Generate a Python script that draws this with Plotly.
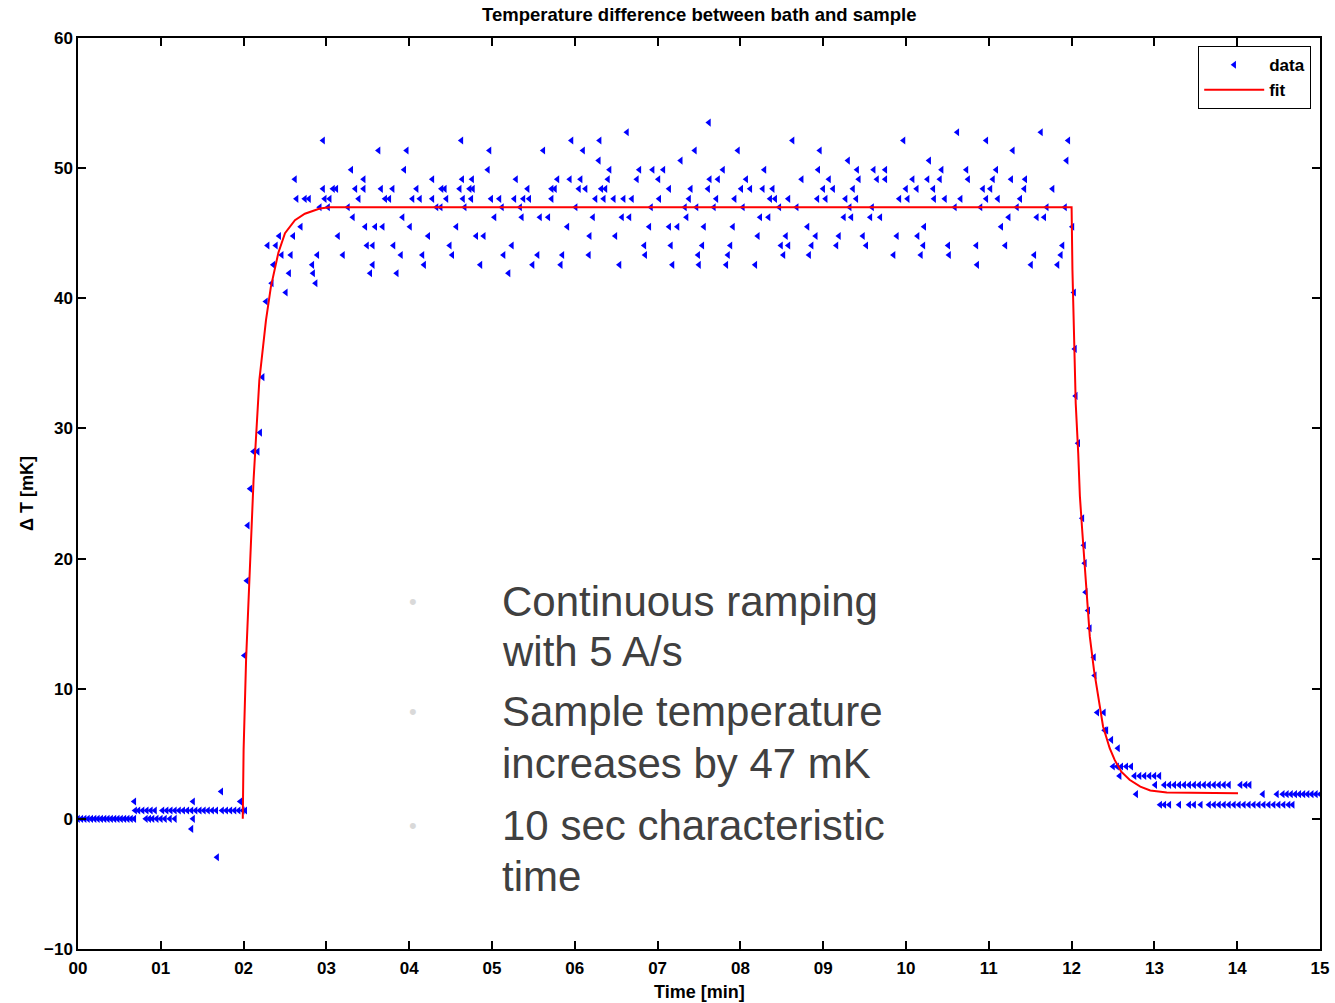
import plotly.graph_objects as go

# ---------------- data ----------------
# baseline before the ramp: (level, times)
baseline_rows = [
    (0.00, [0.00, 0.04, 0.08, 0.12, 0.16, 0.20, 0.24, 0.28, 0.32, 0.36, 0.40, 0.44, 0.48,
            0.52, 0.56, 0.60, 0.64, 0.68, 0.82, 0.86, 0.90, 0.95, 1.00, 1.05, 1.11, 1.17, 1.39]),
    (0.64, [0.69, 0.73, 0.78, 0.83, 0.88, 0.93, 1.02, 1.07, 1.12, 1.17, 1.22, 1.27, 1.32,
            1.37, 1.42, 1.47, 1.52, 1.57, 1.62, 1.67, 1.74, 1.79, 1.84, 1.89, 1.94, 1.99, 2.02]),
    (1.33, [0.68, 1.39, 1.96]),
    (2.10, [1.73]),
    (-0.77, [1.37]),
    (-2.95, [1.68]),
]

rise_time = [2.01, 2.04, 2.05, 2.08, 2.12, 2.17, 2.20, 2.23]
rise_dT = [12.55, 18.29, 22.54, 25.36, 28.22, 28.22, 29.68, 33.94]

plateau_rows = [
    (53.50, [7.62]),
    (52.76, [6.63, 10.62, 11.63]),
    (52.12, [2.96, 4.63, 5.96, 6.30, 8.63, 9.97, 10.97, 11.96]),
    (51.35, [3.63, 3.97, 4.97, 5.62, 6.10, 7.45, 7.97, 8.96, 11.29]),
    (50.58, [6.29, 7.28, 9.30, 10.28, 11.94]),
    (49.87, [3.30, 3.94, 4.95, 6.42, 6.78, 6.94, 7.07, 7.79, 8.29, 8.94, 9.41, 9.61, 9.75,
             10.43, 10.73, 11.09]),
    (49.15, [2.62, 3.45, 4.28, 4.64, 4.76, 5.29, 5.79, 5.94, 6.07, 6.40, 6.75, 7.01, 7.63,
             7.73, 8.07, 8.74, 9.07, 9.43, 9.65, 9.75, 10.08, 10.26, 10.41, 10.75, 11.05,
             11.27, 11.44]),
    (48.41, [2.96, 3.08, 3.12, 3.35, 3.45, 3.66, 3.80, 4.09, 4.39, 4.43, 4.61, 4.73, 4.77,
             5.43, 5.72, 5.76, 6.05, 6.13, 6.32, 6.37, 7.14, 7.40, 7.61, 8.01, 8.12, 8.27,
             8.39, 9.00, 9.12, 9.36, 10.00, 10.13, 10.33, 10.93, 11.02, 11.43, 11.77]),
    (47.64, [2.64, 2.74, 2.79, 2.98, 3.04, 3.39, 3.71, 3.76, 4.04, 4.13, 4.28, 4.45, 4.65,
             4.75, 4.99, 5.09, 5.27, 5.38, 5.45, 5.72, 6.25, 6.35, 6.47, 6.59, 6.69, 7.02,
             7.38, 7.71, 7.93, 8.36, 8.42, 8.58, 8.93, 9.03, 9.27, 9.40, 9.92, 10.02, 10.34,
             10.47, 10.66, 10.97, 11.11, 11.38]),
    (47.00, [2.92, 3.02, 3.26, 4.33, 4.38, 4.67, 5.12, 5.34, 6.01, 6.92, 7.33, 7.47, 7.68,
             8.03, 8.47, 8.68, 9.32, 9.59, 10.59, 10.90, 11.34, 11.70, 11.92]),
    (46.23, [3.32, 3.92, 5.03, 5.36, 5.58, 5.68, 6.22, 6.57, 6.66, 7.35, 8.24, 8.34, 9.25,
             9.34, 9.57, 9.69, 11.24, 11.58, 11.67]),
    (45.50, [2.69, 3.47, 3.59, 3.68, 4.01, 4.57, 5.91, 6.90, 7.14, 7.24, 7.56, 7.91, 8.81,
             10.22, 11.15, 12.01]),
    (44.78, [2.43, 2.60, 3.14, 4.23, 4.81, 4.90, 6.18, 6.49, 8.21, 8.55, 8.91, 9.19, 9.48,
             9.89, 10.14]),
    (44.06, [2.29, 2.39, 3.49, 3.56, 3.81, 4.49, 5.24, 6.84, 7.16, 7.54, 7.88, 8.49, 8.58,
             8.86, 9.16, 9.52, 10.21, 10.51, 10.85, 11.20, 11.89]),
    (43.32, [2.46, 2.57, 2.89, 3.20, 3.90, 4.16, 4.52, 5.14, 5.55, 5.85, 6.17, 6.85, 7.49,
             7.85, 8.52, 8.83, 9.85, 10.18, 10.52, 11.55, 11.87]),
    (42.57, [2.36, 2.83, 3.56, 4.18, 4.86, 5.49, 5.83, 6.54, 7.18, 7.50, 7.83, 8.18, 10.86,
             11.51, 11.83]),
    (41.93, [2.55, 2.84, 3.53, 3.85, 5.20]),
    (41.16, [2.34, 2.87]),
    (40.44, [2.51]),
    (39.75, [2.27]),
]

fall_time = [12.03, 12.04, 12.05, 12.08, 12.13, 12.15, 12.16, 12.17, 12.20, 12.22, 12.27,
             12.28, 12.31, 12.39, 12.40, 12.42, 12.48, 12.56]
fall_dT = [40.44, 36.11, 32.50, 28.87, 23.10, 21.02, 19.65, 17.42, 16.01, 14.65, 12.42,
           11.01, 8.17, 8.17, 6.80, 6.80, 6.07, 5.43]

tail_rows = [
    (4.02, [12.50, 12.55, 12.60, 12.66, 12.72]),
    (3.30, [12.58, 12.76, 12.82, 12.88, 12.94, 13.00, 13.06]),
    (2.61, [13.01, 13.12, 13.18, 13.24, 13.30, 13.36, 13.42, 13.48, 13.54, 13.60, 13.66,
            13.72, 13.78, 13.84, 13.90, 14.04, 14.10, 14.15]),
    (1.90, [12.78, 14.31, 14.48, 14.55, 14.60, 14.65, 14.70, 14.75, 14.80, 14.85, 14.90,
            14.95, 15.00]),
    (1.08, [13.07, 13.12, 13.18, 13.30, 13.42, 13.48, 13.56, 13.66, 13.72, 13.78, 13.84,
            13.90, 13.96, 14.02, 14.08, 14.14, 14.20, 14.26, 14.32, 14.38, 14.44, 14.50,
            14.56, 14.62, 14.67]),
]

# fitted curve
fit_time = [1.99, 2.00, 2.03, 2.08, 2.12, 2.19, 2.27, 2.33, 2.42, 2.50, 2.62, 2.74, 2.92,
            3.04, 12.00, 12.01, 12.03, 12.05, 12.08, 12.10, 12.13, 12.16, 12.19, 12.22,
            12.27, 12.31, 12.34, 12.38, 12.46, 12.52, 12.60, 12.70, 12.83, 12.95, 13.15,
            14.01]
fit_dT = [0.0, 5.3, 12.2, 19.9, 26.0, 33.7, 38.3, 40.9, 43.5, 45.0, 46.0, 46.5, 46.9,
          47.0, 47.0, 42.2, 36.5, 31.9, 28.1, 24.8, 22.0, 19.1, 16.6, 14.0, 11.45, 9.9,
          8.4, 7.1, 5.43, 4.53, 3.63, 3.0, 2.48, 2.18, 2.02, 1.97]

x_tick_vals = list(range(0, 16))
x_tick_text = ["00", "01", "02", "03", "04", "05", "06", "07", "08", "09", "10", "11",
               "12", "13", "14", "15"]
y_tick_vals = [-10, 0, 10, 20, 30, 40, 50, 60]

title_text = "Temperature difference between bath and sample"
x_title = "Time [min]"
y_title = "\u0394 T [mK]"
bullets = [
    ["Continuous ramping", "with 5 A/s"],
    ["Sample temperature", "increases by 47 mK"],
    ["10 sec characteristic", "time"],
]

# ---------------- assemble scatter ----------------
data_t, data_v = [], []
for lvl, ts in baseline_rows:
    data_t += ts
    data_v += [lvl] * len(ts)
data_t += rise_time
data_v += rise_dT
for lvl, ts in plateau_rows:
    data_t += ts
    data_v += [lvl] * len(ts)
data_t += fall_time
data_v += fall_dT
for lvl, ts in tail_rows:
    data_t += ts
    data_v += [lvl] * len(ts)

FONT = "Liberation Sans, Arial, sans-serif"

fig = go.Figure()
fig.add_trace(go.Scatter(
    x=data_t, y=data_v, mode="markers", name="data",
    marker=dict(symbol="triangle-left", size=7, color="#0000ff", line=dict(width=0)),
))
fig.add_trace(go.Scatter(
    x=fit_time, y=fit_dT, mode="lines", name="fit",
    line=dict(color="#ff0000", width=2, shape="linear"),
))

W, H = 1335, 1003
L, R, T, B = 78, 15, 38, 54
pw, ph = W - L - R, H - T - B


def px(xp):
    return (xp - L) / pw


def py(yp):
    return (H - B - yp) / ph


axis_common = dict(
    showline=True, linecolor="black", linewidth=1.5, mirror="ticks",
    ticks="inside", ticklen=8, tickwidth=1.5, tickcolor="black",
    showgrid=False, zeroline=False, automargin=False,
    tickfont=dict(family=FONT, size=17, color="black", weight="bold"),
)

fig.update_layout(
    width=W, height=H,
    margin=dict(l=L, r=R, t=T, b=B, autoexpand=False),
    paper_bgcolor="white", plot_bgcolor="white",
    showlegend=True,
    legend=dict(
        x=px(1311), y=py(46), xanchor="right", yanchor="top",
        bordercolor="black", borderwidth=1.2, bgcolor="white",
        font=dict(family=FONT, size=17, color="black", weight="bold"),
        itemwidth=60, tracegroupgap=0,
    ),
    xaxis=dict(range=[0, 15], tickvals=x_tick_vals, ticktext=x_tick_text,
               ticklabelstandoff=3, **axis_common),
    yaxis=dict(range=[-10, 60], tickvals=y_tick_vals, **axis_common),
)

annotations = [
    dict(text="<b>" + title_text + "</b>", x=0.5, y=py(15), xref="paper", yref="paper",
         showarrow=False, xanchor="center", yanchor="middle",
         font=dict(family=FONT, size=18.5, color="black")),
    dict(text="<b>" + x_title + "</b>", x=px(699), y=py(992), xref="paper", yref="paper",
         showarrow=False, xanchor="center", yanchor="middle",
         font=dict(family=FONT, size=18, color="black")),
    dict(text="<b>" + y_title + "</b>", x=px(27), y=py(494), xref="paper", yref="paper",
         showarrow=False, xanchor="center", yanchor="middle", textangle=-90,
         font=dict(family=FONT, size=18, color="black")),
]

line_y = [[601, 651], [712, 763], [825, 876]]
for (lines, ys) in zip(bullets, line_y):
    annotations.append(dict(text="\u2022", x=px(413), y=py(ys[0]), xref="paper", yref="paper",
                            showarrow=False, xanchor="center", yanchor="middle",
                            font=dict(family="Liberation Sans, Arial", size=22, color="#d9d9d9")))
    for txt, yy in zip(lines, ys):
        annotations.append(dict(text=txt, x=px(500), y=py(yy), xref="paper", yref="paper",
                                showarrow=False, xanchor="left", yanchor="middle",
                                font=dict(family="Liberation Sans, Arial", size=42,
                                          color="#404040")))

fig.update_layout(annotations=annotations)

fig.write_html(
    "out.html",
    config={"displayModeBar": False},
    post_script="document.body.style.margin='0';document.body.style.overflow='hidden';",
)
